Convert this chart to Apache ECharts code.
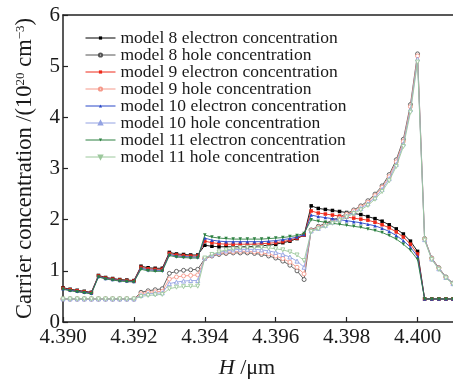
<!DOCTYPE html>
<html>
<head>
<meta charset="utf-8">
<script src="https://cdn.jsdelivr.net/npm/echarts@6/dist/echarts.min.js"></script>
<style>
html,body{margin:0;padding:0;background:#fff;}
#c{width:453px;height:384px;}
</style>
</head>
<body>
<div id="c"></div>
<script>
// x positions (μm)
var xVals = [4.3900,4.3902,4.3904,4.3906,4.3908,4.3910,4.3912,4.3914,4.3916,4.3918,
             4.3920,4.3922,4.3924,4.3926,4.3928,4.3930,4.3932,4.3934,4.3936,4.3938,
             4.3940,4.3942,4.3944,4.3946,4.3948,4.3950,4.3952,4.3954,4.3956,4.3958,
             4.3960,4.3962,4.3964,4.3966,4.3968,4.3970,4.3972,4.3974,4.3976,4.3978,
             4.3980,4.3982,4.3984,4.3986,4.3988,4.3990,4.3992,4.3994,4.3996,4.3998,
             4.4000,4.4002,4.4004,4.4006,4.4008,4.4010];

var e8 = [0.67,0.64,0.62,0.60,0.58, 0.91,0.87,0.85,0.83,0.82,0.81, 1.09,1.06,1.05,1.05,
          1.36,1.33,1.32,1.31,1.31,
          1.50,1.48,1.47,1.47,1.47,1.47,1.47,1.48,1.49,1.50,1.52,1.55,1.58,1.63,1.70,
          2.27,2.22,2.20,2.18,2.16,2.14,2.12,2.10,2.06,2.02,1.97,1.90,1.82,1.72,1.58,1.38,
          0.45,0.45,0.45,0.45,0.45];
var h8 = [0.45,0.45,0.45,0.45,0.45, 0.45,0.45,0.45,0.45,0.45,0.45, 0.58,0.61,0.63,0.65,
          0.95,0.99,1.01,1.02,1.03,
          1.24,1.29,1.32,1.34,1.35,1.35,1.35,1.34,1.32,1.29,1.25,1.19,1.11,1.00,0.83,
          1.80,1.87,1.93,1.99,2.05,2.12,2.19,2.27,2.37,2.50,2.66,2.88,3.17,3.57,4.25,5.24,
          1.63,1.25,1.06,0.88,0.76];
var e9 = [0.66,0.63,0.61,0.59,0.57, 0.90,0.86,0.84,0.82,0.81,0.80, 1.07,1.04,1.03,1.03,
          1.34,1.31,1.30,1.29,1.29,
          1.58,1.55,1.53,1.52,1.52,1.52,1.52,1.52,1.53,1.54,1.55,1.57,1.60,1.64,1.70,
          2.17,2.13,2.11,2.09,2.07,2.05,2.03,2.01,1.99,1.95,1.90,1.84,1.76,1.66,1.52,1.33,
          0.45,0.45,0.45,0.45,0.45];
var h9 = [0.45,0.45,0.45,0.45,0.45, 0.45,0.45,0.45,0.45,0.45,0.45, 0.55,0.58,0.59,0.60,
          0.84,0.88,0.90,0.91,0.92,
          1.24,1.30,1.34,1.36,1.37,1.38,1.38,1.37,1.35,1.33,1.29,1.24,1.17,1.07,0.94,
          1.79,1.85,1.91,1.97,2.03,2.10,2.17,2.25,2.34,2.47,2.63,2.84,3.13,3.53,4.21,5.20,
          1.62,1.24,1.05,0.87,0.75];
var e10 = [0.65,0.62,0.60,0.58,0.56, 0.89,0.85,0.83,0.81,0.80,0.79, 1.05,1.02,1.01,1.01,
           1.32,1.29,1.28,1.27,1.27,
           1.64,1.60,1.58,1.57,1.57,1.57,1.57,1.57,1.57,1.58,1.59,1.61,1.63,1.66,1.71,
           2.09,2.06,2.04,2.02,2.00,1.98,1.96,1.94,1.91,1.88,1.83,1.77,1.69,1.59,1.46,1.28,
           0.45,0.45,0.45,0.45,0.45];
var h10 = [0.45,0.45,0.45,0.45,0.45, 0.45,0.45,0.45,0.45,0.45,0.45, 0.52,0.55,0.56,0.57,
           0.75,0.78,0.80,0.81,0.81,
           1.25,1.31,1.36,1.39,1.41,1.42,1.42,1.42,1.41,1.39,1.36,1.32,1.27,1.19,1.07,
           1.78,1.83,1.89,1.95,2.01,2.07,2.14,2.22,2.31,2.43,2.59,2.80,3.08,3.48,4.15,5.14,
           1.61,1.23,1.04,0.87,0.75];
var e11 = [0.64,0.61,0.59,0.57,0.55, 0.88,0.84,0.82,0.80,0.79,0.78, 1.03,1.00,0.99,0.99,
           1.30,1.27,1.26,1.25,1.25,
           1.70,1.66,1.64,1.63,1.62,1.62,1.62,1.62,1.62,1.63,1.64,1.65,1.67,1.69,1.73,
           2.00,1.97,1.95,1.93,1.91,1.89,1.87,1.85,1.82,1.79,1.75,1.69,1.62,1.52,1.40,1.22,
           0.45,0.45,0.45,0.45,0.45];
var h11 = [0.45,0.45,0.45,0.45,0.45, 0.45,0.45,0.45,0.45,0.45,0.45, 0.50,0.52,0.53,0.54,
           0.65,0.68,0.69,0.70,0.70,
           1.25,1.32,1.37,1.41,1.43,1.45,1.46,1.46,1.46,1.45,1.43,1.41,1.37,1.31,1.20,
           1.77,1.82,1.87,1.93,1.99,2.05,2.12,2.19,2.28,2.40,2.55,2.76,3.04,3.43,4.10,5.08,
           1.60,1.22,1.03,0.86,0.74];

var seriesNames = ['model 8 electron concentration','model 8 hole concentration',
                   'model 9 electron concentration','model 9 hole concentration',
                   'model 10 electron concentration','model 10 hole concentration',
                   'model 11 electron concentration','model 11 hole concentration'];
var seriesData = [e8,h8,e9,h9,e10,h10,e11,h11];
var lineColors = ['#000000','#555555','#ee2a1a','#f5998a','#2a48c8','#93a2e2','#2c8040','#9cc89c'];
var symbols = ['rect','circle','rect','circle','triangle','triangle','triangle','triangle'];
var rotates = [0,0,0,0,0,0,180,180];
var filled = [true,false,true,false,true,false,true,false];

var FONT = 'Liberation Serif';

function pairs(arr){ return xVals.map(function(x,i){ return [x, arr[i]]; }); }

var series = seriesNames.map(function(name, k){
  var c = lineColors[k];
  return {
    name: name,
    type: 'line',
    xAxisIndex: 0,
    data: pairs(seriesData[k]),
    symbol: symbols[k],
    symbolRotate: rotates[k],
    symbolSize: filled[k] ? 3.5 : 4,
    showAllSymbol: true,
    lineStyle: { color: c, width: 0.9 },
    itemStyle: { color: filled[k] ? c : '#ffffff', borderColor: c, borderWidth: filled[k] ? 0 : 0.9 },
    emphasis: { disabled: true },
    z: 2 + k
  };
});

var chart = echarts.init(document.getElementById('c'), null, {renderer: 'canvas'});
chart.setOption({
  animation: false,
  backgroundColor: '#ffffff',
  textStyle: { fontFamily: FONT },
  grid: { left: 63, right: 0, top: 15, bottom: 51, containLabel: false },
  legend: {
    orient: 'vertical',
    left: 85, top: 29,
    padding: 0,
    itemGap: -1,
    itemWidth: 30,
    itemHeight: 4,
    data: seriesNames,
    lineStyle: { width: 1 },
    textStyle: { fontFamily: FONT, fontSize: 17.5, color: '#1a1a1a', lineHeight: 16 }
  },
  xAxis: [{
    type: 'value',
    min: 4.390, max: 4.401, interval: 0.002,
    position: 'bottom',
    axisLine: { lineStyle: { color: '#222', width: 1.5 } },
    axisTick: { inside: true, length: 5, lineStyle: { color: '#222', width: 1.2 } },
    axisLabel: {
      margin: 5, fontFamily: FONT, fontSize: 21, color: '#1a1a1a',
      showMaxLabel: false,
      formatter: function(v){ return v.toFixed(3); }
    },
    splitLine: { show: false },
    name: '{i|H} /μm',
    nameLocation: 'middle',
    nameGap: 35,
    nameTextStyle: {
      fontFamily: FONT, fontSize: 22, color: '#1a1a1a', padding: [0, 22, 0, 0],
      rich: { i: { fontFamily: FONT, fontSize: 22, fontStyle: 'italic', color: '#1a1a1a' } }
    }
  }, {
    type: 'value',
    min: 4.390, max: 4.401,
    position: 'top',
    axisLine: { show: true, lineStyle: { color: '#222', width: 1.5 } },
    axisTick: { show: false },
    axisLabel: { show: false },
    splitLine: { show: false }
  }],
  yAxis: {
    type: 'value',
    min: 0, max: 6, interval: 1,
    axisLine: { show: true, lineStyle: { color: '#222', width: 1.5 } },
    axisTick: { show: true, inside: true, length: 5, lineStyle: { color: '#222', width: 1.2 } },
    axisLabel: { margin: 3, fontFamily: FONT, fontSize: 21, color: '#1a1a1a' },
    splitLine: { show: false },
    name: 'Carrier concentration /(10{sup|20} cm{sup|−3})',
    nameLocation: 'middle',
    nameGap: 27,
    nameTextStyle: {
      fontFamily: FONT, fontSize: 22.5, color: '#1a1a1a', lineHeight: 22,
      rich: { sup: { fontFamily: FONT, fontSize: 13, lineHeight: 13, verticalAlign: 'top', color: '#1a1a1a' } }
    }
  },
  series: series
});
</script>
</body>
</html>
